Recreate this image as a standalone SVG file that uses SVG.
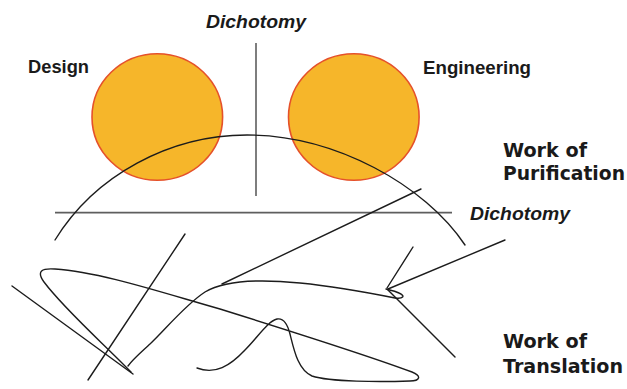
<svg xmlns="http://www.w3.org/2000/svg" width="627" height="389" viewBox="0 0 627 389">
<style>
.bg{fill:#ffffff}
.circ{fill:#F6B62A;stroke:#E5512A;stroke-width:1.6}
.ln{fill:none;stroke:#1c1c1c;stroke-width:1.4;stroke-linecap:round;stroke-linejoin:round}
.axis{fill:none;stroke:#5e5e5e;stroke-width:1.6}
.lbl{font-family:"Liberation Sans",Arial,sans-serif;font-weight:bold;font-size:18px;fill:#1a1a1a}
.ital{font-family:"Liberation Sans",Arial,sans-serif;font-weight:bold;font-style:italic;font-size:19px;fill:#1a1a1a}
.work{font-family:"DejaVu Sans",Verdana,sans-serif;font-weight:bold;font-size:19px;fill:#1a1a1a}
</style>
<rect class="bg" x="0" y="0" width="627" height="389"/>
<g id="design">
<ellipse class="circ" cx="157.3" cy="117" rx="65.3" ry="63.3"/>
<text class="lbl" x="28" y="73" textLength="61" lengthAdjust="spacingAndGlyphs">Design</text>
</g>
<g id="engineering">
<ellipse class="circ" cx="353.8" cy="117" rx="65.3" ry="63.3"/>
<text class="lbl" x="423" y="74" textLength="108" lengthAdjust="spacingAndGlyphs">Engineering</text>
</g>
<g id="dichotomy-vertical">
<line class="axis" x1="256" y1="43" x2="256" y2="196"/>
<text class="ital" x="206" y="28" textLength="100" lengthAdjust="spacingAndGlyphs">Dichotomy</text>
</g>
<g id="dichotomy-horizontal">
<line class="axis" x1="55" y1="212.6" x2="452" y2="212.6"/>
<text class="ital" x="470" y="220" textLength="100" lengthAdjust="spacingAndGlyphs">Dichotomy</text>
</g>
<g id="purification">
<text class="work" x="503" y="157" textLength="84" lengthAdjust="spacingAndGlyphs">Work of</text>
<text class="work" x="503" y="180" textLength="122" lengthAdjust="spacingAndGlyphs">Purification</text>
</g>
<g id="translation">
<text class="work" x="503" y="348" textLength="84" lengthAdjust="spacingAndGlyphs">Work of</text>
<text class="work" x="503" y="373" textLength="120" lengthAdjust="spacingAndGlyphs">Translation</text>
</g>
<g id="connectors">
<path class="ln" d="M55,240 C95,175 170,135 247,135 C335,135 425,185 465,245"/>
<path class="ln" d="M131,372 C105,345 65,310 44,282 C36,271 42,268 55,269 C100,272 160,292 220,309 C300,334 380,360 412,372 C422,376 420,381 410,381 C380,382 330,382 312,376 C298,370 294,350 290,334 C287,322 282,318 277,319 C268,321 258,337 245,350 C230,366 215,375 197,368"/>
<path class="ln" d="M128,366 C132,360 140,353 150,344 C165,330 185,305 205,292 C225,280 260,279 300,283 C340,287 370,293 395,298 C403,299 406,296 399,293 C395,291 390,290 386,289"/>
<line class="ln" x1="12" y1="286" x2="133" y2="374"/>
<line class="ln" x1="88" y1="380" x2="185" y2="234"/>
<line class="ln" x1="421" y1="189" x2="222" y2="284"/>
<line class="ln" x1="413" y1="247" x2="387" y2="288"/>
<line class="ln" x1="505" y1="240" x2="388" y2="289"/>
<line class="ln" x1="388" y1="290" x2="455" y2="357"/>
</g>
</svg>
